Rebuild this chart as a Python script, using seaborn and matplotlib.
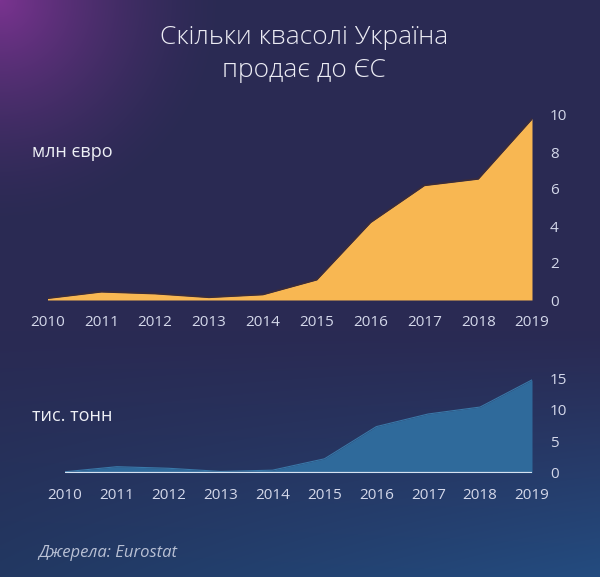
import numpy as np
import pandas as pd
import matplotlib
matplotlib.use("Agg")
import matplotlib.pyplot as plt
import seaborn as sns

years = [2010, 2011, 2012, 2013, 2014, 2015, 2016, 2017, 2018, 2019]
value_mln_eur = [0.1, 0.45, 0.35, 0.15, 0.3, 1.1, 4.2, 6.2, 6.55, 9.8]
volume_k_tonnes = [0.15, 0.95, 0.7, 0.2, 0.4, 2.2, 7.3, 9.3, 10.4, 14.7]
top_ticks = [0, 2, 4, 6, 8, 10]
bottom_ticks = [0, 5, 10, 15]

title = "Скільки квасолі Україна\nпродає до ЄС"
top_unit = "млн євро"
bottom_unit = "тис. тонн"
source = "Джерела: Eurostat"

df = pd.DataFrame({"year": years, "eur": value_mln_eur, "tonnes": volume_k_tonnes})

sns.set_theme(style="white")
plt.rcParams["font.family"] = ["Open Sans", "DejaVu Sans"]

W, H = 600, 577
fig = plt.figure(figsize=(W / 100, H / 100), dpi=100)

# background gradient
yy, xx = np.mgrid[0:H, 0:W].astype(float)
base = np.array([0x2a, 0x2a, 0x53]) / 255.0
purple = np.array([0x7a, 0x33, 0x90]) / 255.0
blue = np.array([0x23, 0x4c, 0x80]) / 255.0
bluel = np.array([0x22, 0x38, 0x62]) / 255.0
img = np.ones((H, W, 3)) * base
r = np.sqrt(xx ** 2 + yy ** 2)
wp = np.clip(1 - r / 230.0, 0, 1) ** 1.6
img = img * (1 - wp[..., None]) + purple * wp[..., None]
t = np.clip((yy - 330) / (H - 330), 0, 1)
hx = xx / W
target = bluel * (1 - hx[..., None]) + blue * hx[..., None]
wb = (t ** 1.1)[..., None]
img = img * (1 - wb) + target * wb
bg = fig.add_axes([0, 0, 1, 1])
bg.imshow(img, aspect="auto", extent=[0, 1, 0, 1], zorder=0)
bg.set_axis_off()

tick_color = "#d4d8ea"

def frac_y(py):
    return (H - py) / H

# top chart
x0, x1 = 47.5 / W, 532 / W
ax1 = fig.add_axes([x0, frac_y(300), x1 - x0, frac_y(115) - frac_y(300)])
ax1.patch.set_alpha(0)
ax1.fill_between(df["year"], 0, df["eur"], color="#f8b752", lw=0, zorder=2)
sns.lineplot(data=df, x="year", y="eur", ax=ax1, color="#3a2c3c", lw=1.3, zorder=3)
ax1.set_xlim(2010, 2019)
ax1.set_ylim(0, 10)

# bottom chart
bx0 = 65 / W
ax2 = fig.add_axes([bx0, frac_y(472.7), x1 - bx0, frac_y(378) - frac_y(472.7)])
ax2.patch.set_alpha(0)
ax2.fill_between(df["year"], 0, df["tonnes"], color="#2f6a9b", lw=0, zorder=2)
sns.lineplot(data=df, x="year", y="tonnes", ax=ax2, color="#3a78a8", lw=0.8, zorder=3)
ax2.axhline(0, color="#d6e0f0", lw=1.6, zorder=4)
ax2.set_xlim(2010, 2019)
ax2.set_ylim(0, 15)

for ax, yt in ((ax1, top_ticks), (ax2, bottom_ticks)):
    ax.set_xticks(years)
    ax.set_xticklabels([str(y) for y in years])
    ax.set_yticks(yt)
    ax.yaxis.tick_right()
    ax.tick_params(axis="both", length=0, colors=tick_color, labelsize=11)
    ax.tick_params(axis="y", pad=13)
    ax.tick_params(axis="x", pad=11)
    ax.set_xlabel("")
    ax.set_ylabel("")
    for s in ax.spines.values():
        s.set_visible(False)
    ax.grid(False)

fig.text(0.507, frac_y(54), title, ha="center", va="center", color="#ececf4",
         fontsize=19, fontweight="light", linespacing=1.45)
fig.text(32 / W, frac_y(152), top_unit, ha="left", va="center", color="#eef0f6", fontsize=13)
fig.text(32 / W, frac_y(416), bottom_unit, ha="left", va="center", color="#eef0f6", fontsize=13)
fig.text(38 / W, frac_y(553), source, ha="left", va="center", color="#b8c0d4",
         fontsize=12, style="italic")

fig.savefig("out.png", dpi=100)
